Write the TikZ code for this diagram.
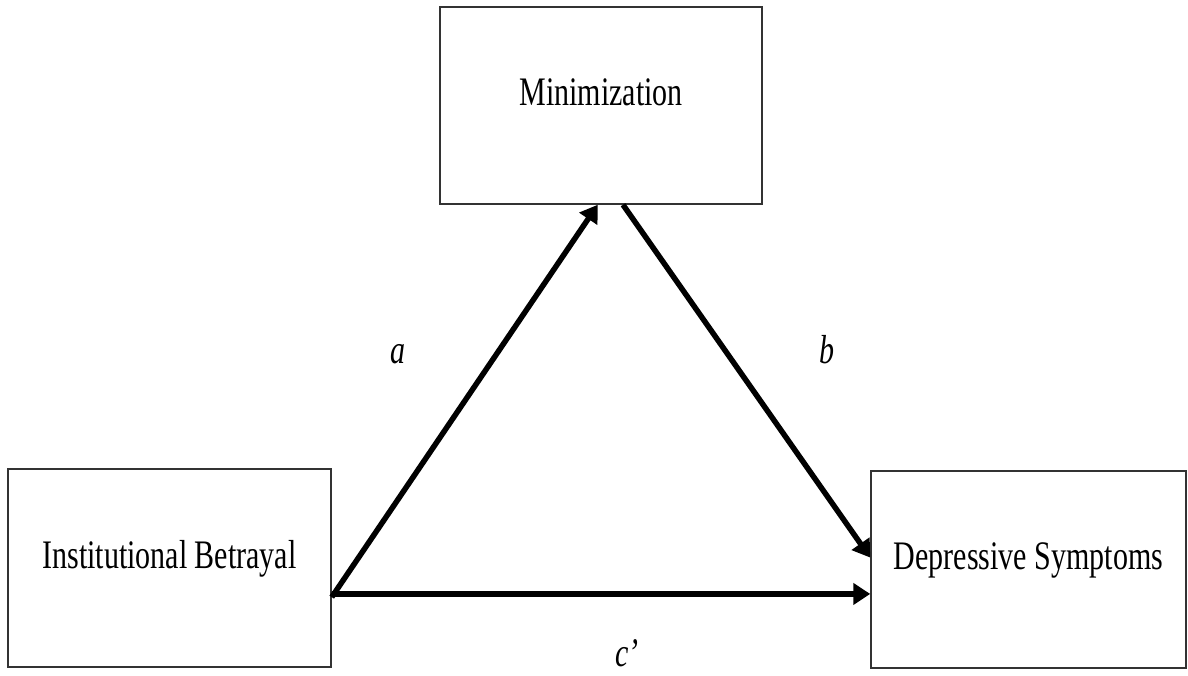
\documentclass[tikz,border=0pt]{standalone}
\usepackage{fontspec}
\usepackage{graphicx}
\setmainfont{Liberation Serif}
\usetikzlibrary{arrows.meta,calc}
% text in the figure is set tall and narrow
\newcommand\tallbox[1]{\scalebox{1}[1.35]{#1}}
\begin{document}
\begin{tikzpicture}[x=1pt,y=-1pt,
  varbox/.style={draw=black!80,line width=1.5pt,fill=white,inner sep=0pt},
  varname/.style={anchor=base,inner sep=0pt,font=\fontsize{30}{36}\selectfont},
  pathlabel/.style={anchor=base,inner sep=0pt,font=\fontsize{30}{36}\selectfont\itshape},
  path/.style={line width=5.5pt,-{Triangle[length=17pt,width=21pt]}}]
\useasboundingbox (0,0) rectangle (1188,675);
\fill[white] (0,0) rectangle (1188,675);

% variables
\node[varbox,minimum width=322pt,minimum height=197pt] (min) at (601,105.5) {};
\node[varbox,minimum width=323pt,minimum height=198pt] (ib) at (169.5,568) {};
\node[varbox,minimum width=315pt,minimum height=197pt] (ds) at (1028.5,569.5) {};

\node[varname] (minT) at (min.center) {\tallbox{Minimization}};
\node[varname] (ibT) at (ib.center) {\tallbox{Institutional Betrayal}};
\node[varname] (dsT) at (ds.center) {\tallbox{Depressive Symptoms}};

% attachment points on the box edges
\coordinate (aStart) at ($(ib.north east)!0.646!(ib.south east)$);
\coordinate (cStart) at ($(ib.north east)!0.63!(ib.south east)$);
\coordinate (aEnd) at ($(min.south west)!0.49!(min.south east)$);
\coordinate (bStart) at ($(min.south west)!0.568!(min.south east)$);
\coordinate (bEnd) at ($(ds.north west)!0.44!(ds.south west)$);

% paths
\draw[path] (aStart) -- (aEnd);
\draw[path] (bStart) -- (bEnd);
\draw[path] (cStart) -- (cStart -| ds.west);

% path labels
\node[pathlabel] (aL) at (398,363) {\tallbox{a}};
\node[pathlabel] (bL) at (827,363) {\tallbox{b}};
\node[pathlabel] (cL) at (627,666) {\tallbox{c’}};
\end{tikzpicture}
\end{document}
